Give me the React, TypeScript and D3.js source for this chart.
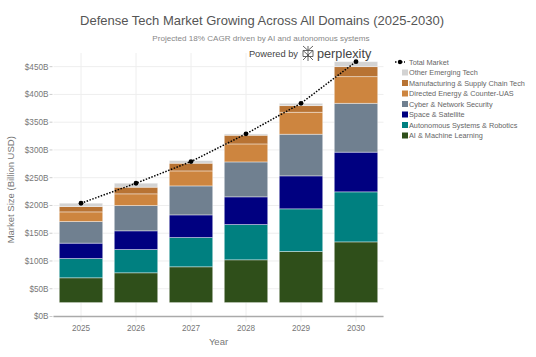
import React from "react";
import * as d3 from "d3";

const years = ["2025", "2026", "2027", "2028", "2029", "2030"];
const seriesNames = [
  "AI & Machine Learning",
  "Autonomous Systems & Robotics",
  "Space & Satellite",
  "Cyber & Network Security",
  "Directed Energy & Counter-UAS",
  "Manufacturing & Supply Chain Tech",
  "Other Emerging Tech",
];
const seriesColors = ["#2f4f1a", "#008080", "#000080", "#708090", "#cd853f", "#b87333", "#d3d3d3"];
const aiML = [44.7, 53.7, 64.5, 77.1, 92, 109.4];
const autonomous = [34.7, 41.9, 52.7, 63.5, 76.9, 90.1];
const space = [27.7, 33.7, 40.8, 49.9, 59.4, 71.5];
const cyber = [38.9, 45.5, 52.2, 62.9, 75, 88];
const directedEnergy = [17.4, 21.1, 27, 32.4, 39.6, 48];
const manufacturing = [9.6, 12, 13.9, 15.7, 11.9, 18];
const otherTech = [6.1, 7.2, 4.7, 2.3, 4.2, 9];
const barBase = 25;
const totalMarket = [204, 240, 279, 329, 384, 459];
const yTicks = [0, 50, 100, 150, 200, 250, 300, 350, 400, 450];

const seriesValues = [aiML, autonomous, space, cyber, directedEnergy, manufacturing, otherTech];

const W = 536, H = 357;
const left = 53.5, right = 383.5, top = 53, bottom = 316.5;
const FONT = "'Liberation Sans', Arial, sans-serif";

export default function App() {
  const x = d3.scaleBand<string>().domain(years).range([left, right]).paddingInner(0.21).paddingOuter(0.105);
  const xc = (d: string) => (x(d) as number) + x.bandwidth() / 2;
  const y = d3.scaleLinear().domain([0, 474.6]).range([bottom, top]);

  const rows = years.map((yr, i) => {
    const r: any = { year: yr };
    seriesNames.forEach((n, k) => (r[n] = seriesValues[k][i]));
    return r;
  });
  const stack = d3.stack<any>().keys(seriesNames)(rows);

  const line = d3.line<number>().x((_, i) => xc(years[i])).y((v) => y(v));

  const legendItems = ["Total Market", ...seriesNames.slice().reverse()];
  const legendColors = ["", ...seriesColors.slice().reverse()];

  return (
    <svg width={W} height={H} style={{ position: "absolute", left: 0, top: 0, fontFamily: FONT }}>
      <rect width={W} height={H} fill="#fff" />
      {/* grid */}
      {yTicks.map((t) => (
        <line key={"gy" + t} x1={left} x2={right} y1={y(t)} y2={y(t)} stroke="#eeeeee" strokeWidth={1} />
      ))}
      {years.map((yr) => (
        <line key={"gx" + yr} x1={xc(yr)} x2={xc(yr)} y1={top} y2={bottom + 5} stroke="#eeeeee" strokeWidth={1} />
      ))}
      {/* bars */}
      {stack.map((s, k) => (
        <g key={s.key}>
          {s.map((d, i) => (
            <rect
              key={i}
              x={x(years[i])}
              width={x.bandwidth()}
              y={y(d[1] + barBase)}
              height={y(d[0] + barBase) - y(d[1] + barBase)}
              fill={seriesColors[k]}
              stroke="rgba(255,255,255,0.5)"
              strokeWidth={0.8}
            />
          ))}
        </g>
      ))}
      {/* axis */}
      <line x1={left} x2={right} y1={bottom} y2={bottom} stroke="#aaaaaa" strokeWidth={1.5} />
      {yTicks.map((t) => (
        <g key={"yt" + t}>
          <line x1={left - 4} x2={left - 1} y1={y(t)} y2={y(t)} stroke="#cccccc" />
          <text x={left - 5} y={y(t)} dy="0.35em" textAnchor="end" fontSize={8.2} fill="#777">
            {`$${t}B`}
          </text>
        </g>
      ))}
      {years.map((yr) => (
        <text key={"xt" + yr} x={xc(yr)} y={bottom + 14} textAnchor="middle" fontSize={8.2} fill="#777">
          {yr}
        </text>
      ))}
      <text x={(left + right) / 2} y={345} textAnchor="middle" fontSize={9.5} fill="#777">Year</text>
      <text transform={`translate(14,${(top + bottom) / 2 + 5}) rotate(-90)`} textAnchor="middle" fontSize={9.5} fill="#777">
        Market Size (Billion USD)
      </text>
      {/* total market line */}
      <path d={line(totalMarket) || ""} fill="none" stroke="#000" strokeWidth={1.5} strokeDasharray="1.5,1.5" />
      {totalMarket.map((v, i) => (
        <circle key={"c" + i} cx={xc(years[i])} cy={y(v)} r={2.4} fill="#000" />
      ))}
      {/* titles */}
      <text x={262} y={25} textAnchor="middle" fontSize={13} fill="#555">
        Defense Tech Market Growing Across All Domains (2025-2030)
      </text>
      <text x={261} y={41} textAnchor="middle" fontSize={8.1} fill="#888">
        Projected 18% CAGR driven by AI and autonomous systems
      </text>
      <g>
        <text x={298} y={57} textAnchor="end" fontSize={9.3} fill="#444">Powered by</text>
        <g transform="translate(302,46)" stroke="#555" strokeWidth={0.9} fill="none">
          <path d="M1,0 L6,4.5 L11,0 M6,0 V15 M1,4.5 H11 V10.5 H1 Z M1,4.5 L6,9 L11,4.5 M1,14 L6,9 L11,14" />
        </g>
        <text x={317} y={58} fontSize={12.7} fill="#444">perplexity</text>
      </g>
      {/* legend */}
      {legendItems.map((name, i) => {
        const ly = 62 + i * 10.5;
        return (
          <g key={"lg" + name}>
            {i === 0 ? (
              <g>
                <line x1={395} x2={405} y1={ly} y2={ly} stroke="#000" strokeWidth={1.5} strokeDasharray="1.5,1.5" />
                <circle cx={400} cy={ly} r={2.2} fill="#000" />
              </g>
            ) : (
              <rect x={402} y={ly - 3} width={6} height={6} fill={legendColors[i]} />
            )}
            <text x={409} y={ly} dy="0.35em" fontSize={7.3} fill="#666">
              {name}
            </text>
          </g>
        );
      })}
    </svg>
  );
}
